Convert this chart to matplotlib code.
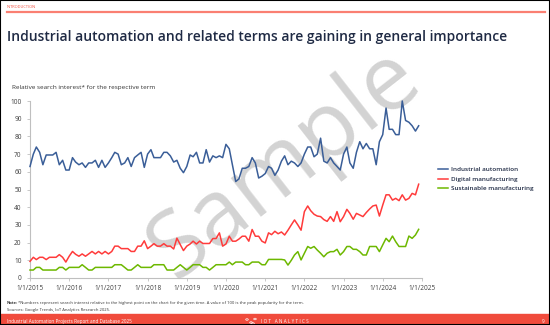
import matplotlib
matplotlib.use("Agg")
import matplotlib.pyplot as plt
import numpy as np
import pandas as pd
from matplotlib.patches import Rectangle, Circle

plt.rcParams['font.family'] = ['Open Sans', 'DejaVu Sans']

### Data (monthly, Jan 2015 - Dec 2024)

months = pd.date_range('2015-01-01', periods=120, freq='MS')

industrial_automation = [
    63, 70, 74, 71, 64, 69.5, 69.5, 69.5, 71, 64, 66.5, 61,
    61, 68, 65.5, 64, 65, 62.5, 65, 65, 66.5, 62.5, 66.5, 62.5,
    65, 68, 71, 70, 64, 65, 68, 63, 68, 69.5, 71, 62.5,
    70, 72.5, 68, 68, 68, 71, 71, 69, 65.5, 66.5, 62, 59.5,
    63, 69.5, 68.5, 71, 65, 65, 72.5, 65.5, 69, 68, 69, 68,
    75.5, 73, 64, 54.5, 56, 62, 62, 63, 68, 65, 56.5, 57.5,
    59, 63, 62, 58, 61, 66, 69, 64, 66, 65, 63, 65,
    70, 74, 74, 68.5, 70, 79, 66, 65, 68, 65, 63, 61,
    70, 74, 65, 62, 71, 77, 73, 76, 73, 73, 64, 77,
    81, 96, 84, 84, 81, 81, 100, 89, 88, 86, 83, 86]

digital_manufacturing = [
    9.4, 11.7, 10.4, 11.7, 11.7, 10.4, 11.7, 11.7, 11.7, 13.2, 11.7, 9,
    12.3, 15, 13.4, 12.3, 13.6, 12.3, 13.6, 15, 13.6, 15, 13.6, 15,
    13.6, 15, 18, 18, 16.6, 16.6, 16.6, 15, 15, 18, 18, 21,
    16.6, 18, 19.4, 18, 18, 19.4, 18, 18, 16.4, 22.5, 18.9, 15.5,
    18, 19.2, 20.8, 19.2, 20.8, 19.5, 19.5, 19.5, 22.3, 22.3, 25.5, 18,
    19.2, 23.6, 20.8, 20.8, 22, 23.6, 23.6, 20.8, 27.4, 23.6, 23.6, 20.8,
    19.8, 25.5, 24.5, 26.4, 25, 26, 24.3, 27, 30, 32.8, 30, 27,
    37.5, 40.7, 38, 36, 35, 34.7, 33, 32, 34.7, 32, 37.5, 31.8,
    34.7, 38.8, 36.5, 33.2, 36.5, 35.6, 34.7, 37, 39, 40.7, 41.2, 35,
    41.2, 47, 47, 44, 45, 43.7, 47, 44, 45, 47.8, 47, 53]

sustainable_manufacturing = [
    4.5, 4.5, 6, 6, 4.5, 4.5, 4.5, 4.5, 4.5, 6, 6, 4.5,
    6, 6, 6, 6, 7.5, 6, 4.5, 4.5, 6, 6, 6, 6,
    6, 6, 7.5, 7.5, 7.5, 6, 4.5, 4.5, 6, 7.5, 6, 6,
    6, 6, 7.5, 7.5, 7.5, 7.5, 4.5, 4.5, 4.5, 6, 7.5, 6,
    4.5, 6, 7.5, 7.5, 7.5, 6, 6, 4.5, 6, 7.5, 7.5, 7.5,
    7.5, 9, 7.5, 9, 9, 9, 7.5, 7.5, 9, 9, 9, 7.5,
    7.5, 10.5, 10.5, 10.5, 10.5, 10.5, 10.2, 7.3, 10, 13, 14.9, 10.2,
    14, 17.8, 16.8, 17.8, 15.8, 14, 12, 14, 14.9, 14.9, 16.2, 13,
    14.9, 17.8, 17.8, 16.2, 16.2, 14.9, 13, 13, 17.8, 17.8, 17.8, 14.9,
    18.7, 22.4, 20.5, 23.7, 20.5, 17.8, 17.8, 17.8, 23.7, 22.4, 24.3, 27.5]

series_names = ['Industrial automation', 'Digital manufacturing', 'Sustainable manufacturing']
series_colors = ['#3A5E98', '#FF3B3B', '#6DB800']

year_ticks = pd.date_range('2015-01-01', '2025-01-01', freq='YS')
year_labels = ['1/1/%d' % d.year for d in year_ticks]

### Figure

W, H = 550, 325
fig = plt.figure(figsize=(W / 100, H / 100), dpi=100)
fig.patch.set_facecolor('white')

navy = '#1F2A44'
red = '#F04B3C'

# header
fig.text(7 / W, 1 - 7 / H, 'INTRODUCTION', fontsize=2.8, color=red, va='center')
fig.add_artist(plt.Line2D([7 / W, 545 / W], [1 - 12.3 / H] * 2, color='#FA7F72', lw=1.6))
fig.text(7 / W, 1 - 37 / H, 'Industrial automation and related terms are gaining in general importance',
         fontsize=10, fontweight='semibold', color=navy, va='center')
fig.text(12 / W, 1 - 88 / H, 'Relative search interest* for the respective term',
         fontsize=4.6, color='#333333', va='center')

ax = fig.add_axes([30 / W, 47 / H, 392 / W, 177 / H])
ax.set_facecolor('none')

for vals, name, col in zip([industrial_automation, digital_manufacturing, sustainable_manufacturing],
                           series_names, series_colors):
    ax.plot(months, vals, color=col, lw=1.1, label=name, clip_on=False, zorder=3)

ax.set_xlim(year_ticks[0], year_ticks[-1])
ax.set_ylim(0, 100)
ax.set_yticks(np.arange(0, 101, 10))
ax.set_xticks(year_ticks)
ax.set_xticklabels(year_labels)
for s in ['top', 'right']:
    ax.spines[s].set_visible(False)
for s in ['left', 'bottom']:
    ax.spines[s].set_color('#BFBFBF')
    ax.spines[s].set_linewidth(0.8)
ax.tick_params(axis='both', colors='#BFBFBF', labelcolor='#404040', labelsize=4.7,
               length=2, width=0.6)
ax.tick_params(axis='y', pad=4)
ax.tick_params(axis='x', pad=3)

# watermark
ax.text(0.65, 0.64, 'Sample', transform=ax.transAxes, fontsize=66, color='#D3D3D3',
        rotation=38, ha='center', va='center', zorder=0)

ax.legend(loc='upper left', bbox_to_anchor=(438 / W, 1 - 167 / H), bbox_transform=fig.transFigure,
          frameon=False, fontsize=4.6, handlelength=1.6, handletextpad=0.45, labelspacing=0.6,
          borderaxespad=0, borderpad=0, labelcolor=navy)
for t in ax.get_legend().get_texts():
    t.set_fontweight('semibold')

# notes
fig.text(7 / W, 1 - 302.7 / H, 'Note:', fontsize=3, fontweight='bold', color='#333333', va='center')
fig.text(18.5 / W, 1 - 302.7 / H,
         '*Numbers represent search interest relative to the highest point on the chart for the given time. '
         'A value of 100 is the peak popularity for the term.',
         fontsize=3, color='#333333', va='center')
fig.text(7 / W, 1 - 310 / H, 'Sources: Google Trends, IoT Analytics Research 2025.',
         fontsize=3, color='#333333', va='center')

# footer
fig.add_artist(Rectangle((0, 0), 1, 11 / H, transform=fig.transFigure, color=red, zorder=1))
fig.text(7 / W, 1 - 321.5 / H, 'Industrial Automation Projects Report and Database 2025',
         fontsize=3.3, color='white', va='center', zorder=2)
for cx, cy in [(247, 319.5), (251, 322.5), (255, 319), (253, 323.5)]:
    fig.add_artist(Circle((cx / W, 1 - cy / H), 1.3 / W, transform=fig.transFigure,
                          fill=False, ec='white', lw=0.5, zorder=2))
fig.text(261 / W, 1 - 321.5 / H, 'I O T   A N A L Y T I C S', fontsize=3.3, color='white',
         va='center', zorder=2)
fig.text(543 / W, 1 - 321.5 / H, '9', fontsize=3.3, color='white', va='center', ha='center', zorder=2)

# frame
fig.add_artist(Rectangle((0, 0), 1, 1, transform=fig.transFigure, fill=False, ec='black', lw=1.5, zorder=5))

fig.savefig('out.png', dpi=100)
